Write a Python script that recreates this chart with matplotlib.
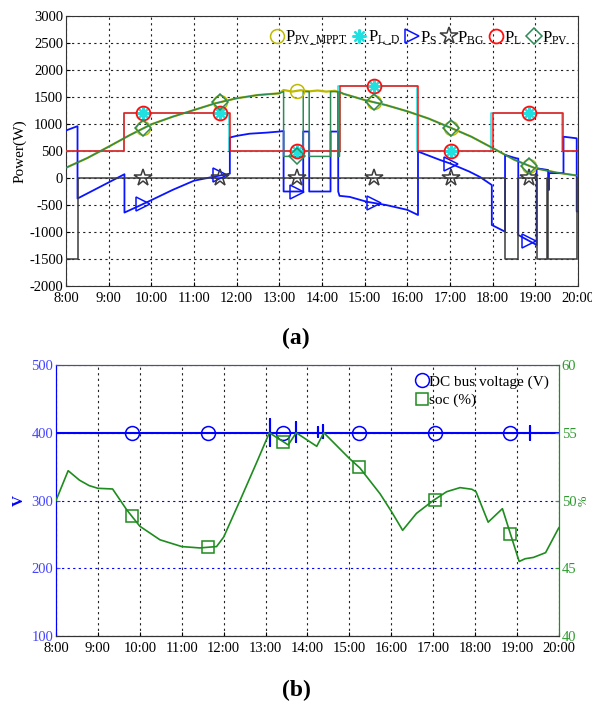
import numpy as np
import matplotlib
matplotlib.use("Agg")
import matplotlib.pyplot as plt

plt.rcParams['font.family'] = ['Liberation Serif', 'DejaVu Serif']
plt.rcParams['mathtext.fontset'] = 'custom'
plt.rcParams['mathtext.rm'] = 'Liberation Serif'
plt.rcParams['mathtext.it'] = 'Liberation Serif:italic'
plt.rcParams['mathtext.bf'] = 'Liberation Serif:bold'
plt.rcParams['axes.unicode_minus'] = False

# ---------------- data: panel (a) ----------------
hour_ticks = list(range(8, 21))
hour_labels = [f"{h}:00" for h in hour_ticks]
power_ticks = list(range(-2000, 3001, 500))
marker_times = [9.81, 11.62, 13.42, 15.23, 17.03, 18.84]

# PV available (MPPT) power
t_mppt = [8.0, 8.5, 9.0, 9.5, 10.0, 10.5, 11.0, 11.5, 12.0, 12.5, 13.0, 13.1, 13.3, 13.5,
          13.7, 13.9, 14.1, 14.3, 14.5, 15.0, 15.5, 16.0, 16.5, 17.0, 17.5, 18.0, 18.5,
          19.0, 19.5, 20.0]
p_mppt = [190, 370, 580, 796, 994, 1135, 1259, 1383, 1476, 1537, 1568, 1630, 1600, 1625,
          1605, 1620, 1600, 1615, 1560, 1444, 1350, 1235, 1100, 935, 765, 555, 340,
          180, 100, 43]

# PV actual power (curtailed between 13:06 and 14:25)
t_pv = [8.0, 8.5, 9.0, 9.5, 10.0, 10.5, 11.0, 11.5, 12.0, 12.5, 13.0, 13.1, 13.1, 13.56,
        13.56, 13.70, 13.70, 14.20, 14.20, 14.37, 14.37, 14.41, 14.41, 14.5, 15.0, 15.5,
        16.0, 16.5, 17.0, 17.5, 18.0, 18.5, 19.0, 19.5, 20.0]
p_pv = [190, 370, 580, 796, 994, 1135, 1259, 1383, 1476, 1537, 1568, 1600, 400, 400,
        1600, 1600, 400, 400, 1600, 1600, 400, 400, 1600, 1560, 1444, 1350,
        1235, 1100, 935, 765, 555, 340, 180, 100, 43]

# Load power (step changes) and load demand
t_load = [8.0, 9.37, 11.84, 14.42, 16.25, 18.0, 19.66, 20.0]
p_load = [500, 1200, 500, 1700, 500, 1200, 500, 500]
t_load_d = [8.0, 9.35, 11.82, 14.37, 16.23, 17.97, 19.63, 20.0]
p_load_d = [500, 1200, 500, 1700, 500, 1200, 500, 500]

# Storage (battery) power
t_s = [8.0, 8.27, 8.27, 9.37, 9.37, 9.73, 10.0, 10.5, 11.0, 11.5, 11.84, 11.84, 12.0, 12.3,
       12.7, 13.0, 13.1, 13.1, 13.56, 13.56, 13.70, 13.70, 14.20, 14.20, 14.38, 14.38,
       14.41, 14.65, 15.05, 15.5, 16.0, 16.25, 16.25, 16.77, 17.0, 17.45, 17.7, 17.98,
       17.98, 18.29, 18.29, 18.56, 18.6, 18.6, 19.03, 19.03, 19.30, 19.30, 19.32, 19.32,
       19.66, 19.66, 19.97, 19.97, 20.0]
p_s = [880, 960, -380, 70, -640, -510, -410, -220, -50, 30, 80, 750, 780, 820,
       840, 860, 870, -250, -250, 860, 860, -250, -250, 860, 860, -250,
       -330, -350, -440, -500, -590, -685, 490, 333, 270, 120, 20, -130,
       -870, -994, 426, 364, 360, -1055, -1240, 180, 148, -220, -220, 90,
       90, 765, 735, -620, -620]

# Grid (bidirectional) power, step changes
t_bg = [8.0, 8.27, 18.29, 18.60, 19.03, 19.28, 19.30, 19.97, 20.0]
p_bg = [-1500, 0, -1500, 0, -1500, 0, -1500, 0, 0]

# ---------------- data: panel (b) ----------------
volt_ticks = [100, 200, 300, 400, 500]
soc_ticks = [40, 45, 50, 55, 60]
t_v = [8.0, 13.1, 13.1, 13.1, 13.1, 13.73, 13.73, 13.73, 13.73, 14.24, 14.24, 14.24, 14.24,
       14.38, 14.38, 14.38, 14.38, 19.31, 19.31, 19.31, 19.31, 20.0]
v_dc = [400, 400, 420, 380, 400, 400, 416, 386, 400, 400, 408, 393, 400,
        400, 412, 392, 400, 400, 410, 390, 400, 400]
t_soc = [8.0, 8.29, 8.56, 8.79, 9.0, 9.35, 9.69, 10.0, 10.48, 11.0, 11.43, 11.83, 12.0,
         12.39, 12.8, 13.09, 13.54, 13.73, 14.22, 14.39, 15.0, 15.25, 15.73, 16.0, 16.27,
         16.6, 17.0, 17.32, 17.64, 17.92, 18.02, 18.31, 18.65, 19.05, 19.19, 19.39, 19.68,
         19.98, 20.0]
soc = [50.0, 52.2, 51.5, 51.1, 50.9, 50.85, 49.3, 48.1, 47.1, 46.6, 46.5, 46.6, 47.3,
       50.0, 52.9, 55.0, 54.1, 55.0, 54.0, 55.0, 53.1, 52.4, 50.5, 49.2, 47.8,
       49.05, 50.0, 50.65, 50.95, 50.83, 50.65, 48.4, 49.4, 45.5, 45.7, 45.8, 46.15,
       47.9, 48.0]

# ---------------- helpers ----------------
def step_at(t, v, q):
    t = np.asarray(t); v = np.asarray(v)
    idx = np.searchsorted(t, q, side='right') - 1
    return v[np.clip(idx, 0, len(v) - 1)]

mk = np.asarray(marker_times)

C_OLIVE = '#BDBA00'
C_CYAN = '#22E0E0'
C_BLUE = '#0A14FF'
C_BG = '#3C3C3C'
C_RED = '#FF1010'
C_GREEN = '#2E8B57'

fig = plt.figure(figsize=(5.92, 7.04), dpi=100)
ax = fig.add_axes([66 / 592, 1 - 286 / 704, (578 - 66) / 592, (286 - 16) / 704])

lw = 1.1
ax.plot(t_mppt, p_mppt, color=C_OLIVE, lw=1.6, zorder=2)
ax.plot(t_load_d, p_load_d, color=C_CYAN, lw=lw, drawstyle='steps-post', zorder=3)
ax.plot(t_s, p_s, color=C_BLUE, lw=1.3, zorder=4)
ax.plot(t_bg, p_bg, color=C_BG, lw=lw, drawstyle='steps-post', zorder=5)
ax.plot(t_load, p_load, color=C_RED, lw=lw, drawstyle='steps-post', zorder=6)
ax.plot(t_pv, p_pv, color=C_GREEN, lw=lw, zorder=7)

mew = 1.1
h1, = ax.plot(mk, np.interp(mk, t_mppt, p_mppt), ls='none', marker='o', ms=10, mfc='none',
              mec=C_OLIVE, mew=mew, zorder=8, label=r'$\mathrm{P_{PV\_MPPT}}$')
h2, = ax.plot(mk, step_at(t_load_d, p_load_d, mk), ls='none', marker=(8, 2, 0), ms=10,
              mec=C_CYAN, mew=1.6, zorder=8, label=r'$\mathrm{P_{L\_D}}$')
h3, = ax.plot(mk, np.interp(mk, t_s, p_s), ls='none', marker='>', ms=10, mfc='none',
              mec=C_BLUE, mew=mew, zorder=8, label=r'$\mathrm{P_{S}}$')
h4, = ax.plot(mk, step_at(t_bg, p_bg, mk), ls='none', marker='*', ms=13, mfc='none',
              mec=C_BG, mew=mew, zorder=8, label=r'$\mathrm{P_{BG}}$')
h5, = ax.plot(mk, step_at(t_load, p_load, mk), ls='none', marker='o', ms=10, mfc='none',
              mec=C_RED, mew=1.3, zorder=9, label=r'$\mathrm{P_{L}}$')
h6, = ax.plot(mk, np.interp(mk, t_pv, p_pv), ls='none', marker='D', ms=8, mfc='none',
              mec=C_GREEN, mew=mew, zorder=9, label=r'$\mathrm{P_{PV}}$')

ax.set_xlim(8, 20)
ax.set_ylim(-2000, 3000)
ax.set_xticks(hour_ticks)
ax.set_xticklabels(hour_labels)
ax.set_yticks(power_ticks)
ax.tick_params(labelsize=10.5, direction='in', length=3, pad=2)
ax.tick_params(axis='x', pad=4)
ax.grid(True, color='#222222', ls=(0, (2, 3)), lw=0.8)
for s in ax.spines.values():
    s.set_color('#333333')
ax.set_ylabel('Power(W)', fontsize=11, labelpad=2)
ax.legend(handles=[h1, h2, h3, h4, h5, h6], loc='upper right', bbox_to_anchor=(1.0, 0.99),
          ncol=6, frameon=False, fontsize=12, handlelength=0.8, handletextpad=0.1,
          columnspacing=0.3, borderaxespad=0.2)

fig.text(0.5, 1 - 338 / 704, '(a)', ha='center', va='center', fontsize=17, fontweight='bold')

# ---------------- panel (b) ----------------
C_VB = '#0000FF'
C_VT = '#4444FF'
C_SG = '#1E8C1E'
C_ST = '#2E9B2E'

bx = fig.add_axes([56 / 592, 1 - 636 / 704, (559 - 56) / 592, (636 - 365) / 704])
bxr = bx.twinx()

bx.plot(t_v, v_dc, color=C_VB, lw=1.5, zorder=3)
hv, = bx.plot(mk, np.interp(mk, t_v, v_dc), ls='none', marker='o', ms=10, mfc='none',
              mec=C_VB, mew=1.1, zorder=4, label='DC bus voltage (V)')
bxr.plot(t_soc, soc, color=C_SG, lw=1.2, zorder=3)
hs, = bxr.plot(mk, np.interp(mk, t_soc, soc), ls='none', marker='s', ms=9, mfc='none',
               mec=C_SG, mew=1.1, zorder=4, label='soc (%)')

bx.set_xlim(8, 20)
bx.set_ylim(100, 500)
bxr.set_ylim(40, 60)
bx.set_xticks(hour_ticks)
bx.set_xticklabels(hour_labels)
bx.set_yticks(volt_ticks)
bxr.set_yticks(soc_ticks)
bx.tick_params(axis='x', labelsize=10.5, direction='in', length=3, pad=4, colors='black')
bx.tick_params(axis='y', labelsize=10.5, direction='in', length=3, pad=2, colors=C_VT)
bxr.tick_params(axis='y', labelsize=10.5, direction='in', length=3, pad=2, colors=C_ST)
bx.xaxis.grid(True, color='#222222', ls=(0, (2, 3)), lw=0.8)
bx.yaxis.grid(True, color=C_VB, ls=(0, (2, 3)), lw=0.8)
bx.set_axisbelow(True)
bx.spines['left'].set_color(C_VB)
bxr.spines['left'].set_color(C_VB)
bxr.spines['right'].set_color(C_SG)
bx.spines['right'].set_color(C_SG)
for a in (bx, bxr):
    a.spines['top'].set_color('#555555')
    a.spines['bottom'].set_color('#333333')
bx.set_ylabel('V', color=C_VB, fontsize=11, fontweight='bold', labelpad=4)
bxr.set_ylabel('%', color=C_SG, fontsize=9, labelpad=1)
bxr.legend(handles=[hv, hs], loc='upper right', bbox_to_anchor=(1.0, 1.0), frameon=False,
           fontsize=11, handlelength=0.9, handletextpad=0.05, borderaxespad=0.25,
           labelspacing=0.3)

fig.text(0.5, 1 - 690 / 704, '(b)', ha='center', va='center', fontsize=17, fontweight='bold')

fig.savefig('out.png', dpi=100)
